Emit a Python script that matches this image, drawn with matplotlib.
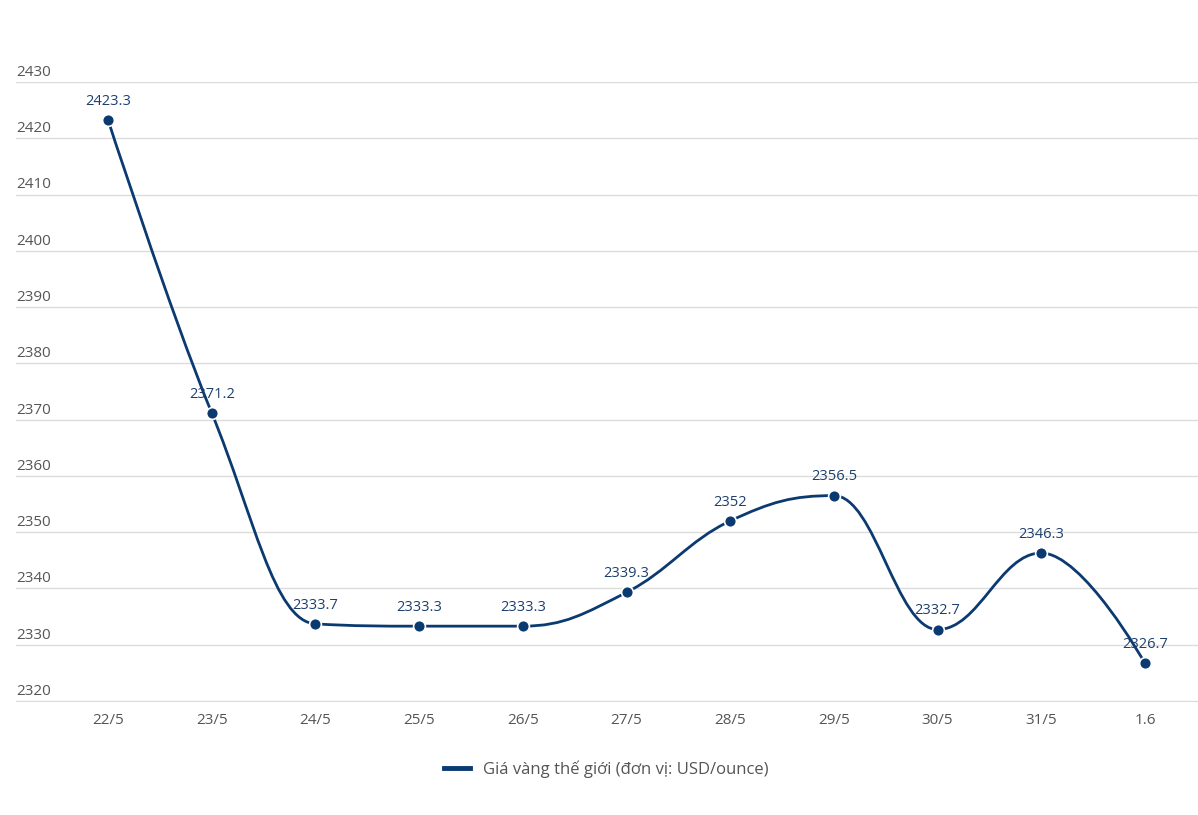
import matplotlib
matplotlib.use("Agg")
import matplotlib.pyplot as plt
from matplotlib.path import Path
from matplotlib.patches import PathPatch
from matplotlib.lines import Line2D
import numpy as np

categories = ["22/5", "23/5", "24/5", "25/5", "26/5", "27/5", "28/5", "29/5", "30/5", "31/5", "1.6"]
values = [2423.3, 2371.2, 2333.7, 2333.3, 2333.3, 2339.3, 2352, 2356.5, 2332.7, 2346.3, 2326.7]
labels = ["2423.3", "2371.2", "2333.7", "2333.3", "2333.3", "2339.3", "2352", "2356.5", "2332.7", "2346.3", "2326.7"]
yticks = [2320, 2330, 2340, 2350, 2360, 2370, 2380, 2390, 2400, 2410, 2420, 2430]
series_name = "Giá vàng thế giới (đơn vị: USD/ounce)"

LINE = "#0b3a70"
LABEL = "#1c3f6e"
GRID = "#dcdcdc"
TICK = "#555555"
FONT = ["Open Sans", "DejaVu Sans"]
plt.rcParams['font.family'] = FONT

W, H = 1198, 815
fig = plt.figure(figsize=(W / 100, H / 100), dpi=100)
ax_left, ax_right = 16, 1198
ax_top, ax_bot = 82, 701
ax = fig.add_axes([ax_left / W, 1 - ax_bot / H, (ax_right - ax_left) / W, (ax_bot - ax_top) / H])

x0_px, dx_px = 108, 103.7
xmin = (ax_left - x0_px) / dx_px
xmax = (ax_right - x0_px) / dx_px
ax.set_xlim(xmin, xmax)
ax.set_ylim(2320, 2430)

# Highcharts-like spline
xs = np.arange(len(values), dtype=float)
ys = np.array(values, dtype=float)
sm = 1.5
den = sm + 1
n = len(xs)
lc = [(xs[i], ys[i]) for i in range(n)]
rc = [(xs[i], ys[i]) for i in range(n)]
for i in range(1, n - 1):
    px, py = xs[i], ys[i]
    lx, ly = xs[i - 1], ys[i - 1]
    nx, ny = xs[i + 1], ys[i + 1]
    lcx = (sm * px + lx) / den
    lcy = (sm * py + ly) / den
    rcx = (sm * px + nx) / den
    rcy = (sm * py + ny) / den
    if rcx != lcx:
        corr = ((rcy - lcy) * (rcx - px)) / (rcx - lcx) + py - rcy
        lcy += corr
        rcy += corr
    if lcy > ly and lcy > py:
        lcy = max(ly, py)
        rcy = 2 * py - lcy
    elif lcy < ly and lcy < py:
        lcy = min(ly, py)
        rcy = 2 * py - lcy
    if rcy > ny and rcy > py:
        rcy = max(ny, py)
        lcy = 2 * py - rcy
    elif rcy < ny and rcy < py:
        rcy = min(ny, py)
        lcy = 2 * py - rcy
    lc[i] = (lcx, lcy)
    rc[i] = (rcx, rcy)

verts = [(xs[0], ys[0])]
codes = [Path.MOVETO]
for i in range(1, n):
    verts += [rc[i - 1], lc[i], (xs[i], ys[i])]
    codes += [Path.CURVE4] * 3
patch = PathPatch(Path(verts, codes), facecolor="none", edgecolor=LINE, lw=2.0, zorder=3,
                  capstyle="round", joinstyle="round", clip_on=False)
ax.add_patch(patch)
ax.plot(xs, ys, linestyle="none", marker="o", ms=8.5, mfc=LINE, mec="white", mew=1.2,
        zorder=4, clip_on=False)

for x, y, t in zip(xs, ys, labels):
    ax.annotate(t, (x, y), xytext=(0, 8), textcoords="offset points", ha="center", va="bottom",
                fontsize=10.5, color=LABEL, zorder=5)

# grid
ax.set_yticks(yticks)
ax.yaxis.grid(True, color=GRID, lw=1)
ax.set_axisbelow(True)
ax.tick_params(axis="y", length=0, labelleft=False)
for yt in yticks:
    ax.annotate(str(yt), (0, yt), xycoords=("axes fraction", "data"), xytext=(0, 1.5),
                textcoords="offset points", ha="left", va="bottom", fontsize=11, color=TICK)

ax.set_xticks(xs)
ax.set_xticklabels(categories, fontsize=11, color=TICK)
ax.tick_params(axis="x", length=0, pad=9)
for s in ax.spines.values():
    s.set_visible(False)
ax.spines["bottom"].set_visible(True)
ax.spines["bottom"].set_color(GRID)

handle = Line2D([], [], color=LINE, lw=3.5)
fig.legend([handle], [series_name], loc="center", bbox_to_anchor=(606 / W, 1 - 769 / H),
           frameon=False, fontsize=12, labelcolor="#555555", handlelength=1.55, handletextpad=0.8)

fig.savefig("out.png", dpi=100, facecolor="white")
